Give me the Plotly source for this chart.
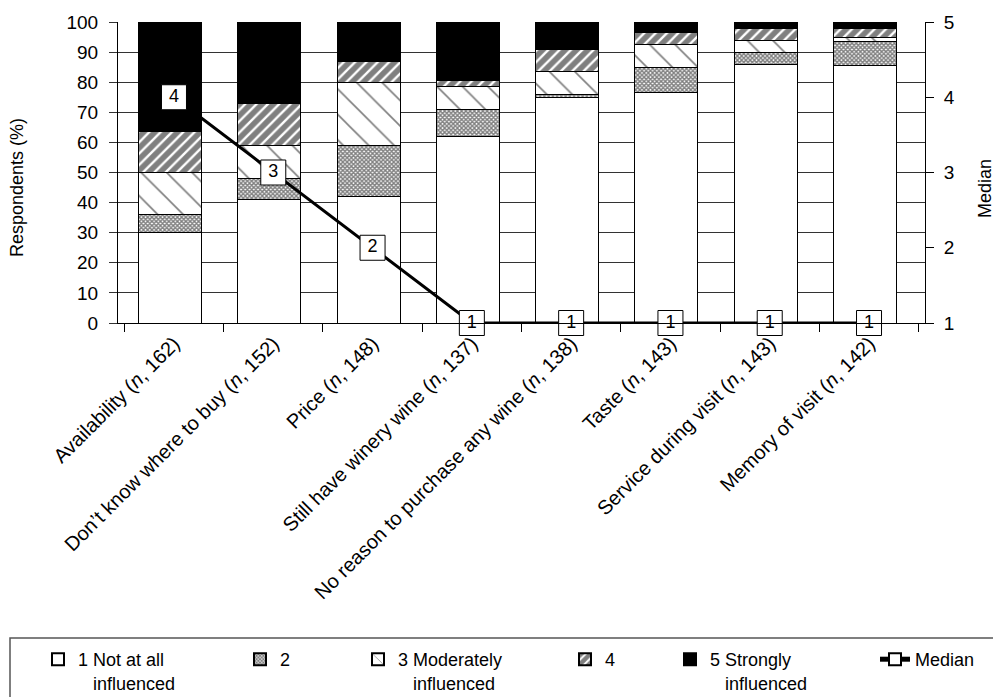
import plotly.graph_objects as go

categories = [
    "Availability (<i>n</i>, 162)",
    "Don\u2019t know where to buy (<i>n</i>, 152)",
    "Price (<i>n</i>, 148)",
    "Still have winery wine (<i>n</i>, 137)",
    "No reason to purchase any wine (<i>n</i>, 138)",
    "Taste (<i>n</i>, 143)",
    "Service during visit (<i>n</i>, 143)",
    "Memory of visit (<i>n</i>, 142)",
]
lvl1 = [30, 41, 42, 62, 75, 76.5, 86, 85.5]
lvl2 = [6, 7, 17, 9, 1, 8.5, 4, 8]
lvl3 = [14, 11, 21, 7.5, 7.5, 7.5, 4, 1.5]
lvl4 = [13.5, 14, 7, 2, 7.5, 4, 4, 3]
lvl5 = [36.5, 27, 13, 19.5, 9, 3.5, 2, 2]
median = [4, 3, 2, 1, 1, 1, 1, 1]
series_names = [
    "1 Not at all<br>   influenced",
    "2",
    "3 Moderately<br>   influenced",
    "4",
    "5 Strongly<br>   influenced",
]

FONT = "Liberation Sans, Arial, sans-serif"

patterns = [
    dict(shape=""),
    dict(shape="x", size=3, solidity=0.7, fgcolor="black", bgcolor="white"),
    dict(shape="\\", size=18, solidity=0.09, fgcolor="black", bgcolor="white"),
    dict(shape="/", size=8, solidity=0.7, fgcolor="black", bgcolor="white"),
    dict(shape=""),
]
colors = ["white", "white", "white", "white", "black"]
legend_ids = ["legend", "legend2", "legend3", "legend4", "legend5", "legend6"]

BAR_W = 0.635
BAR_SHIFT = -0.04

fig = go.Figure()
for vals, name, pat, col, lg in zip([lvl1, lvl2, lvl3, lvl4, lvl5], series_names, patterns, colors, legend_ids):
    fig.add_trace(go.Bar(
        x=categories, y=vals, name=name, legend=lg,
        width=BAR_W, offset=-BAR_W / 2 + BAR_SHIFT,
        marker=dict(color=col, pattern=pat, line=dict(color="black", width=1)),
    ))

fig.add_trace(go.Scatter(
    x=categories, y=median, name="Median", yaxis="y2", legend=legend_ids[5],
    mode="lines+markers+text", text=[str(v) for v in median],
    textposition="middle center", textfont=dict(size=18, color="black", family=FONT),
    line=dict(color="black", width=3),
    marker=dict(symbol="square", size=25, color="white", line=dict(color="black", width=1)),
    cliponaxis=False,
))

# page body adds an 8px offset: figure px = screen px - 8
OFF = 8
L, T = 118 - OFF, 22 - OFF
PW, PH = 807, 301
R = 1001 - L - PW
B = 697 - T - PH


def px_x(screen):
    return (screen - OFF - L) / PW


def px_y(screen):
    return (T + PH - (screen - OFF)) / PH


legend_x_screen = [38, 240, 358, 565, 670, 875]
legend_layout = {}
for lg, xs in zip(legend_ids, legend_x_screen):
    legend_layout[lg] = dict(
        x=px_x(xs), xanchor="left", y=px_y(641), yanchor="top",
        orientation="h", valign="top", itemsizing="constant",
        font=dict(size=18, family=FONT, color="black"),
        bgcolor="rgba(0,0,0,0)", borderwidth=0,
    )

fig.update_layout(
    width=1001, height=697,
    margin=dict(l=L, r=R, t=T, b=B, autoexpand=False),
    paper_bgcolor="white", plot_bgcolor="white",
    barmode="stack",
    font=dict(family=FONT, size=18, color="black"),
    showlegend=True,
    xaxis=dict(
        tickangle=-45, tickson="boundaries", ticks="outside", ticklen=8,
        tickcolor="black", showline=True, linecolor="black", linewidth=1,
        showgrid=False, tickfont=dict(size=20, family=FONT), automargin=False,
    ),
    yaxis=dict(
        range=[0, 100], dtick=10, ticks="outside", ticklen=8, tickcolor="#333",
        showline=True, linecolor="black", linewidth=1,
        showgrid=True, gridcolor="#333", gridwidth=1, zeroline=False,
        tickfont=dict(size=19, family=FONT), automargin=False, ticklabelstandoff=7,
    ),
    yaxis2=dict(
        overlaying="y", side="right", range=[1, 5], dtick=1,
        ticks="outside", ticklen=8, tickcolor="black",
        showline=True, linecolor="black", linewidth=1, showgrid=False, zeroline=False,
        tickfont=dict(size=19, family=FONT), automargin=False, ticklabelstandoff=6,
    ),
    annotations=[
        dict(text="Respondents (%)", textangle=-90, xref="paper", yref="paper",
             x=px_x(17), y=px_y(188), xanchor="center", yanchor="middle",
             showarrow=False, font=dict(size=18, family=FONT)),
        dict(text="Median", textangle=-90, xref="paper", yref="paper",
             x=px_x(985), y=px_y(189), xanchor="center", yanchor="middle",
             showarrow=False, font=dict(size=18, family=FONT)),
    ],
    shapes=[dict(
        type="rect", xref="paper", yref="paper",
        x0=px_x(10), x1=px_x(995), y0=px_y(710), y1=px_y(638),
        line=dict(color="#555", width=1.5), fillcolor="rgba(0,0,0,0)",
    )],
    **legend_layout,
)

fig.write_html("out.html")
